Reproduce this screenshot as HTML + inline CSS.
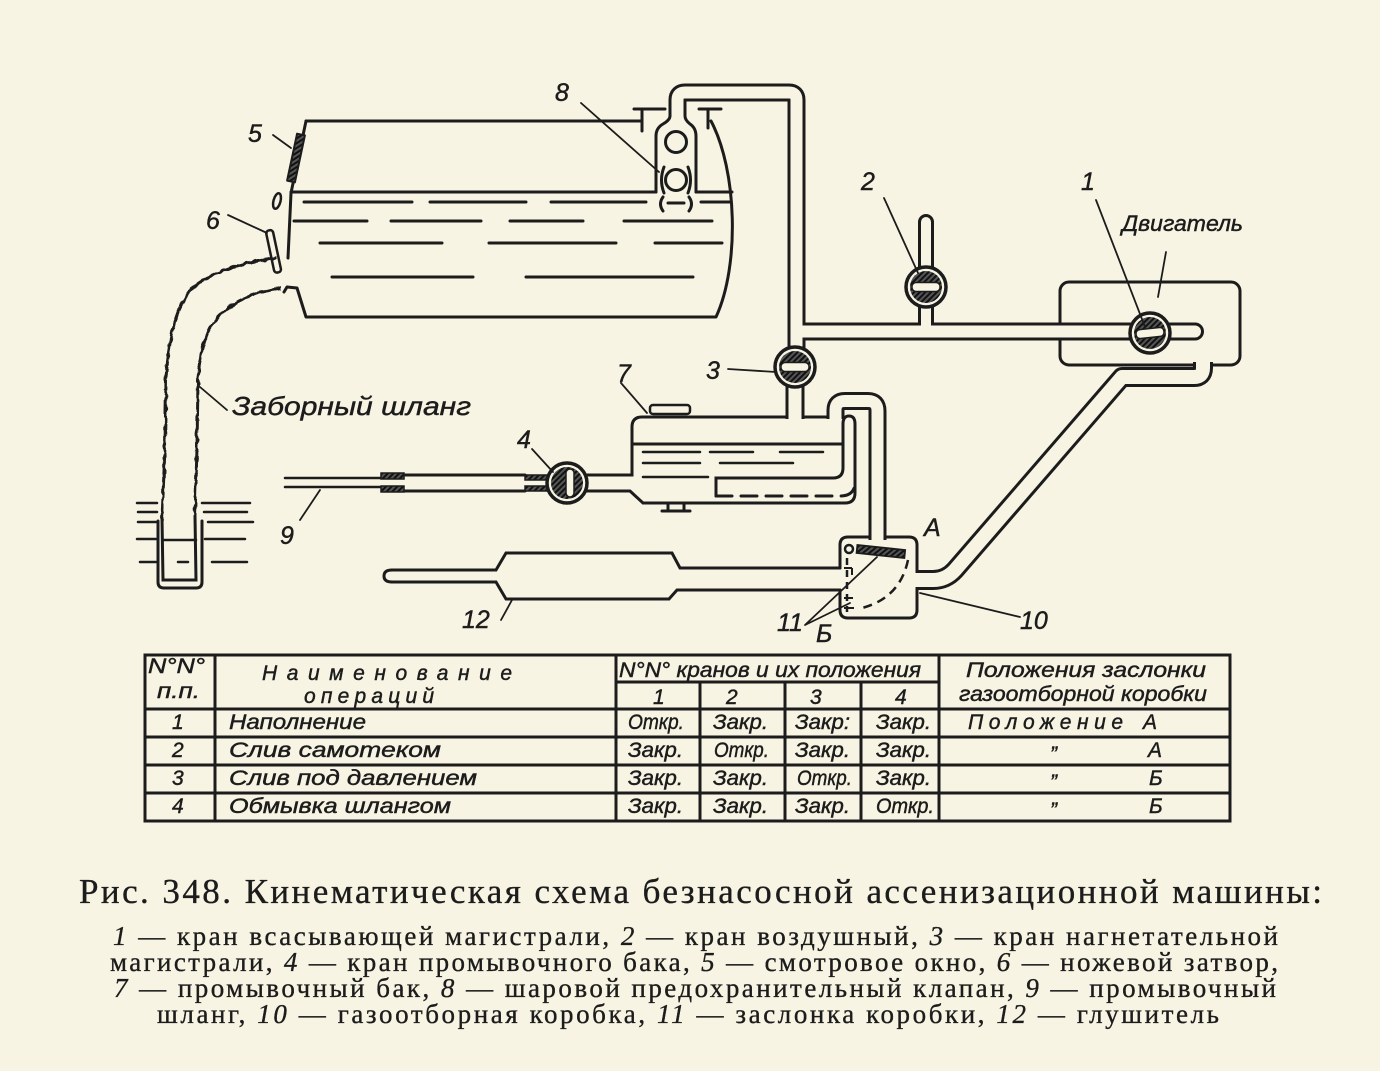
<!DOCTYPE html>
<html><head><meta charset="utf-8"><style>
html,body{margin:0;padding:0;background:#f7f4e3;}
svg{display:block;}
.t{font-family:"Liberation Sans","DejaVu Sans",sans-serif;font-style:italic;fill:#1c1c1c;stroke:#1c1c1c;stroke-width:0.45;}
.c{font-family:"Liberation Serif","DejaVu Serif",serif;fill:#1c1c1c;stroke:#1c1c1c;stroke-width:0.35;}
</style></head><body>
<svg width="1380" height="1071" viewBox="0 0 1380 1071" xmlns="http://www.w3.org/2000/svg">
<defs>
<filter id="wavy" x="-20%" y="-5%" width="140%" height="110%"><feTurbulence type="fractalNoise" baseFrequency="0.16" numOctaves="1" seed="4"/><feDisplacementMap in="SourceGraphic" scale="4.5" xChannelSelector="R" yChannelSelector="G"/></filter>
<pattern id="hatch" width="4" height="4" patternUnits="userSpaceOnUse" patternTransform="rotate(45)"><rect width="4" height="4" fill="#555"/><line x1="1" y1="0" x2="1" y2="4" stroke="#111" stroke-width="2"/></pattern>
</defs>
<rect width="1380" height="1071" fill="#f7f4e3"/>

<g fill="none" stroke="#1c1c1c" stroke-width="3" stroke-linecap="round" stroke-linejoin="round">
<path d="M306,121 L642,121 M634,109 L665,109 M642,109 L642,131 M699,109 L721,109 M708,109 L708,128"/>
<path d="M711,121 C737,170 740,265 716,317 L306,317 L297,288 L287,287 L284,292"/>
<path d="M306,121 L291,193 L288,258"/>
<path d="M291,192 L656,192 M696,192 L732,192"/>
<path d="M304,202 L412,202 M430,202 L526,202 M551,202 L646,202 M668,203 L684,203 M701,202 L731,202"/>
<path d="M294,221 L367,221 M391,221 L481,221 M510,221 L583,221 M624,221 L712,221"/>
<path d="M320,243 L442,243 M489,243 L616,243 M655,243 L722,243"/>
<path d="M332,277 L473,277 M526,277 L693,277"/>
<path d="M670,110 L670,116 Q670,120 663,124 Q656,128 656,136 L656,192"/>
<path d="M685,110 L685,116 Q685,120 690,124 Q696,128 696,136 L696,192"/>
<circle cx="676" cy="142" r="10.5" stroke-width="3"/>
<circle cx="676" cy="180" r="10.5" stroke-width="3"/>
<path d="M664,167 Q659,180 664,193 M688,167 Q693,180 688,193 M663,197 Q658,204 663,211 M689,197 Q694,204 689,211"/>
<rect x="292" y="134" width="8" height="48" fill="url(#hatch)" stroke-width="2" transform="rotate(12 296 158)"/>
<ellipse cx="277" cy="201" rx="3.5" ry="8" stroke-width="2.5" transform="rotate(15 277 201)"/>
<rect x="270" y="230" width="7" height="43" rx="3" fill="#f7f4e3" stroke-width="2.5" transform="rotate(-12 273 251)"/>
</g>

<g fill="none" stroke="#1c1c1c" stroke-width="3" filter="url(#wavy)">
<path d="M277,258 C245,262 205,272 188,293 C174,312 168,345 166,380 L165,447 L162,520"/>
<path d="M281,288 C255,291 228,303 214,322 C203,338 199,360 198,380 L197,447 L195,518"/>
</g>
<g fill="none" stroke="#1c1c1c" stroke-width="3" stroke-linecap="round">
<path d="M162,518 L163,580 L196,580 L195,516"/>
<path d="M158,521 L158,582 Q158,588 164,588 L196,588 Q202,588 202,582 L202,521"/>
<path d="M163,540 L196,540" stroke-width="2.5"/>
<path d="M178,562 L188,562" stroke-width="2.5"/>
<path d="M137,503 L157,503 M202,503 L250,503 M138,512 L157,512 M204,512 L247,512 M138,522 L156,522 M208,522 L253,522 M137,539 L156,539 M205,539 L245,539 M140,562 L156,562 M212,562 L247,562" stroke-width="2.5"/>
</g>

<g fill="none" stroke="#1c1c1c" stroke-width="3" stroke-linecap="round">
<rect x="1060" y="282" width="180" height="83" rx="9"/>
<path d="M840,568 L840,545 Q840,537 848,537 L909,537 Q917,537 917,545 L917,610 Q917,618 909,618 L848,618 Q840,618 840,610 L840,590"/>
<path d="M587,475 L632,475 L632,427 Q632,417 642,417 L832,417"/>
<path d="M587,491 L630,491 L643,503 L845,503 Q855,503 855,493 L855,424 Q855,416 849,416 Q843,416 843,424 L843,468 Q843,478 833,478 L716,478 L716,496"/>
<path d="M716,496 L840,496 Q855,496 855,482" stroke-dasharray="16 9"/>
<rect x="650" y="405" width="40" height="9" rx="3" fill="#f7f4e3" stroke-width="2.5"/>
<path d="M668,503 L668,510 M684,503 L684,510 M662,511 L690,511"/>
<path d="M632,444 L843,444" />
<path d="M643,452 L700,452 M710,452 L753,452 M780,452 L823,452 M643,463 L700,463 M720,463 L793,463 M643,477 L708,477" stroke-width="2.5"/>
<path d="M285,478 L381,478 M285,487 L381,487" stroke-width="2.5"/>
<path d="M404,475 L525,475 M404,491 L525,491"/>
<path d="M392,570 L496,570 L506,553 L672,553 L680,568 L840,568"/>
<path d="M392,582 L496,582 L506,599 L669,599 L677,590 L840,590"/>
<path d="M392,570 Q384,570 384,576 Q384,582 392,582"/>
</g>
<g stroke="#1c1c1c" stroke-width="1.5">
<rect x="381" y="473" width="23" height="6" fill="url(#hatch)"/>
<rect x="381" y="486" width="23" height="6" fill="url(#hatch)"/>
<rect x="525" y="475" width="22" height="5" fill="url(#hatch)"/>
<rect x="525" y="486" width="22" height="5" fill="url(#hatch)"/>
</g>

<g fill="none" stroke="#1c1c1c" stroke-linejoin="round">
<path d="M677.5,112 L677.5,100 Q677.5,92.5 685,92.5 L789,92.5 Q796.5,92.5 796.5,100 L796.5,350" stroke-width="18"/>
<path d="M796.5,331.5 L1195,331.5" stroke-width="18" stroke-linecap="round"/>
<path d="M926,330 L926,222" stroke-width="16" stroke-linecap="round"/>
<path d="M795,384 L795,419" stroke-width="19"/>
<path d="M835.5,419 L835.5,410 Q835.5,401 845,401 L868,401 Q877.5,401 877.5,411 L877.5,540" stroke-width="18"/>
<path d="M1203,362 L1203,368 Q1203,377 1194,377 L1122,377 L955,570 Q946,580 933,580 L916,580" stroke-width="20"/>
</g>
<g fill="none" stroke="#f7f4e3" stroke-linejoin="round">
<path d="M677.5,113 L677.5,100 Q677.5,92.5 685,92.5 L789,92.5 Q796.5,92.5 796.5,100 L796.5,351" stroke-width="12"/>
<path d="M796.5,331.5 L1195,331.5" stroke-width="12" stroke-linecap="round"/>
<path d="M926,330 L926,222" stroke-width="10" stroke-linecap="round"/>
<path d="M795,383 L795,420" stroke-width="13"/>
<path d="M835.5,420 L835.5,410 Q835.5,401 845,401 L868,401 Q877.5,401 877.5,411 L877.5,541" stroke-width="12"/>
<path d="M1203,361 L1203,368 Q1203,377 1194,377 L1122,377 L955,570 Q946,580 933,580 L915,580" stroke-width="14"/>
</g>

<g fill="none" stroke="#1c1c1c" stroke-width="2">
<circle cx="849" cy="549" r="4" stroke-width="2.5"/>
<rect x="857" y="545" width="48" height="8" fill="url(#hatch)" stroke-width="1.8" transform="rotate(6 857 549)"/>
<path d="M908,560 Q900,598 862,608" stroke-dasharray="9 6" stroke-width="2.5"/>
<path d="M847,558 L847,612" stroke-dasharray="7 5" stroke-width="2.5"/>
<path d="M844,568 L852,568 M852,568 L852,575 M844,598 L853,598 M844,608 L854,608" stroke-width="2"/>
</g>

<g stroke="#1c1c1c">
<circle cx="1150" cy="333" r="20" fill="#f7f4e3" stroke-width="3.5"/><circle cx="1150" cy="333" r="16" fill="url(#hatch)" stroke="none"/><rect x="1136" y="328.5" width="28" height="9" rx="4" fill="#f7f4e3" stroke-width="1.5" transform="rotate(-6 1150 333)"/>
<circle cx="926" cy="287" r="20" fill="#f7f4e3" stroke-width="3.5"/><circle cx="926" cy="287" r="16" fill="url(#hatch)" stroke="none"/><rect x="912" y="282.5" width="28" height="9" rx="4" fill="#f7f4e3" stroke-width="1.5"/>
<circle cx="795" cy="367" r="20" fill="#f7f4e3" stroke-width="3.5"/><circle cx="795" cy="367" r="16" fill="url(#hatch)" stroke="none"/><rect x="781" y="362.5" width="28" height="9" rx="4" fill="#f7f4e3" stroke-width="1.5"/>
<circle cx="567" cy="483" r="20" fill="#f7f4e3" stroke-width="3.5"/><circle cx="567" cy="483" r="16" fill="url(#hatch)" stroke="none"/><rect x="566" y="469" width="8" height="28" rx="4" fill="#f7f4e3" stroke-width="1.5"/>
</g>

<g fill="none" stroke="#1c1c1c" stroke-width="1.8" stroke-linecap="round">
<path d="M273,135 L291,148"/>
<path d="M228,215 L267,233"/>
<path d="M581,103 L659,172"/>
<path d="M884,198 L918,273"/>
<path d="M1096,200 L1145,327"/>
<path d="M1166,252 L1158,297"/>
<path d="M728,369 L776,372"/>
<path d="M621,383 L647,413"/>
<path d="M532,449 L553,472"/>
<path d="M300,520 L320,490"/>
<path d="M501,620 L512,600"/>
<path d="M200,387 L227,410"/>
<path d="M805,625 L877,557 M805,625 L850,603"/>
<path d="M920,593 L1020,617"/>
</g>

<g class="t" font-size="25">
<text x="248" y="142">5</text>
<text x="206" y="229">6</text>
<text x="555" y="101">8</text>
<text x="861" y="190">2</text>
<text x="1081" y="190">1</text>
<text x="706" y="379">3</text>
<text x="617" y="382">7</text>
<text x="517" y="448">4</text>
<text x="280" y="544">9</text>
<text x="462" y="628">12</text>
<text x="777" y="631">11</text>
<text x="816" y="642">Б</text>
<text x="924" y="536">A</text>
<text x="1020" y="629">10</text>
<text x="232" y="415" font-size="26" textLength="239" lengthAdjust="spacingAndGlyphs">Заборный шланг</text>
<text x="1122" y="231" font-size="22" textLength="121" lengthAdjust="spacingAndGlyphs">Двигатель</text>
</g>

<g fill="none" stroke="#1c1c1c" stroke-width="3">
<rect x="145" y="655" width="1085" height="166"/>
<path d="M215,655 L215,821 M616,655 L616,821 M939,655 L939,821 M700,682 L700,821 M785,682 L785,821 M861,682 L861,821"/>
<path d="M616,682 L939,682 M145,709 L1230,709 M145,737 L1230,737 M145,765 L1230,765 M145,793 L1230,793"/>
</g>
<g class="t" font-size="21">
<text x="148" y="673" textLength="57" lengthAdjust="spacingAndGlyphs">N°N°</text>
<text x="157" y="698" textLength="43" lengthAdjust="spacingAndGlyphs">п.п.</text>
<text x="262" y="680" textLength="250" lengthAdjust="spacing">Наименование</text>
<text x="304" y="703" textLength="130" lengthAdjust="spacing">операций</text>
<text x="619" y="677" textLength="302" lengthAdjust="spacingAndGlyphs">N°N° кранов и их положения</text>
<text x="653" y="704">1</text><text x="726" y="704">2</text><text x="810" y="704">3</text><text x="895" y="704">4</text>
<text x="966" y="677" textLength="240" lengthAdjust="spacingAndGlyphs">Положения заслонки</text>
<text x="959" y="701" textLength="248" lengthAdjust="spacingAndGlyphs">газоотборной коробки</text>

<text x="172" y="729">1</text><text x="229" y="729" textLength="137" lengthAdjust="spacingAndGlyphs">Наполнение</text>
<text x="628" y="729" textLength="56" lengthAdjust="spacingAndGlyphs">Откр.</text><text x="713" y="729" textLength="55" lengthAdjust="spacingAndGlyphs">Закр.</text><text x="795" y="729" textLength="55" lengthAdjust="spacingAndGlyphs">Закр:</text><text x="876" y="729" textLength="55" lengthAdjust="spacingAndGlyphs">Закр.</text>
<text x="968" y="729" textLength="155" lengthAdjust="spacing">Положение</text><text x="1143" y="729">А</text>

<text x="172" y="757">2</text><text x="229" y="757" textLength="212" lengthAdjust="spacingAndGlyphs">Слив самотеком</text>
<text x="628" y="757" textLength="55" lengthAdjust="spacingAndGlyphs">Закр.</text><text x="714" y="757" textLength="55" lengthAdjust="spacingAndGlyphs">Откр.</text><text x="795" y="757" textLength="55" lengthAdjust="spacingAndGlyphs">Закр.</text><text x="876" y="757" textLength="55" lengthAdjust="spacingAndGlyphs">Закр.</text>
<text x="1050" y="761">”</text><text x="1148" y="757">А</text>

<text x="172" y="785">3</text><text x="229" y="785" textLength="248" lengthAdjust="spacingAndGlyphs">Слив под давлением</text>
<text x="628" y="785" textLength="55" lengthAdjust="spacingAndGlyphs">Закр.</text><text x="713" y="785" textLength="55" lengthAdjust="spacingAndGlyphs">Закр.</text><text x="797" y="785" textLength="55" lengthAdjust="spacingAndGlyphs">Откр.</text><text x="876" y="785" textLength="55" lengthAdjust="spacingAndGlyphs">Закр.</text>
<text x="1050" y="789">”</text><text x="1149" y="785">Б</text>

<text x="172" y="813">4</text><text x="229" y="813" textLength="222" lengthAdjust="spacingAndGlyphs">Обмывка шлангом</text>
<text x="628" y="813" textLength="55" lengthAdjust="spacingAndGlyphs">Закр.</text><text x="713" y="813" textLength="55" lengthAdjust="spacingAndGlyphs">Закр.</text><text x="795" y="813" textLength="55" lengthAdjust="spacingAndGlyphs">Закр.</text><text x="876" y="813" textLength="58" lengthAdjust="spacingAndGlyphs">Откр.</text>
<text x="1050" y="817">”</text><text x="1149" y="813">Б</text>
</g>

<g class="c">
<text x="79" y="903" font-size="35" textLength="1243" lengthAdjust="spacing">Рис. 348. Кинематическая схема безнасосной ассенизационной машины:</text>
<text x="113" y="945" font-size="27" textLength="1165" lengthAdjust="spacing"><tspan font-style="italic">1</tspan> — кран всасывающей магистрали, <tspan font-style="italic">2</tspan> — кран воздушный, <tspan font-style="italic">3</tspan> — кран нагнетательной</text>
<text x="110" y="971" font-size="27" textLength="1168" lengthAdjust="spacing">магистрали, <tspan font-style="italic">4</tspan> — кран промывочного бака, <tspan font-style="italic">5</tspan> — смотровое окно, <tspan font-style="italic">6</tspan> — ножевой затвор,</text>
<text x="114" y="997" font-size="27" textLength="1162" lengthAdjust="spacing"><tspan font-style="italic">7</tspan> — промывочный бак, <tspan font-style="italic">8</tspan> — шаровой предохранительный клапан, <tspan font-style="italic">9</tspan> — промывочный</text>
<text x="157" y="1023" font-size="27" textLength="1062" lengthAdjust="spacing">шланг, <tspan font-style="italic">10</tspan> — газоотборная коробка, <tspan font-style="italic">11</tspan> — заслонка коробки, <tspan font-style="italic">12</tspan> — глушитель</text>
</g>
</svg>
</body></html>
